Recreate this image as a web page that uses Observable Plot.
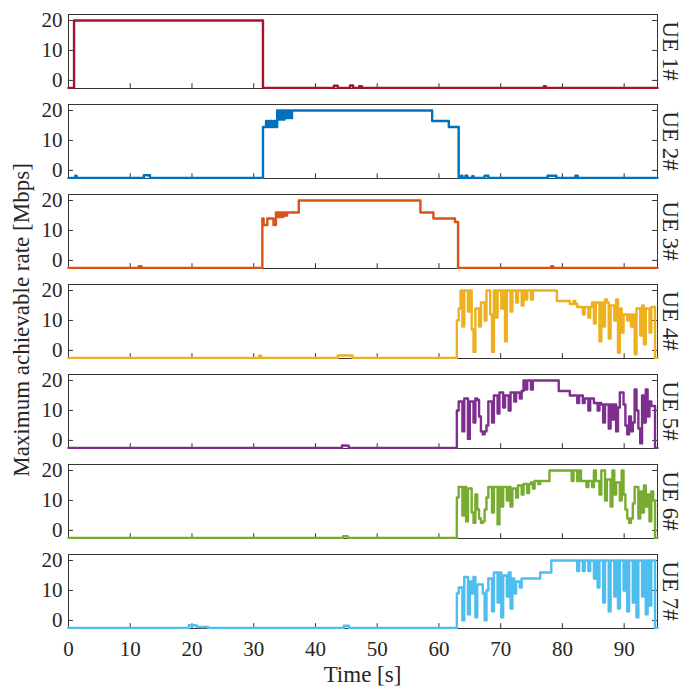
<!DOCTYPE html>
<html><head><meta charset="utf-8">
<script src="https://cdn.jsdelivr.net/npm/d3@7"></script>
<script src="https://cdn.jsdelivr.net/npm/@observablehq/plot@0.6"></script>
<style>body{margin:0;background:#fff;} svg{display:block}</style>
</head><body><div id="chart"></div>
<script>
const ueNames = ["UE 1#","UE 2#","UE 3#","UE 4#","UE 5#","UE 6#","UE 7#"];
const ueColors = ["#A2142F","#0072BD","#D95319","#EDB120","#7E2F8E","#77AC30","#4DBEEE"];
const xTicks = [0,10,20,30,40,50,60,70,80,90];
const yTicks = [0,10,20];
const xMax = 95.4;
const xTitle = "Time [s]";
const yTitle = "Maximum achievable rate [Mbps]";

// step series [time, rate] (held until next point)
const ue1 = [[0,-2.5],[0.9,20],[31.5,-2.5],[43.0,-1.8],[43.6,-2.5],[45.6,-1.7],[46.1,-2.5],[47.1,-1.9],[47.5,-2.5],[77.0,-1.9],[77.3,-2.5],[95.4,-2.5]];
const ue2 = [[0,-2.5],[1.1,-1.8],[1.3,-2.5],[12.2,-1.6],[13.2,-2.5],[31.5,14.5],[32.0,16.5],[32.3,14.5],[32.6,16.5],[32.9,14.5],[33.2,16.5],[33.5,14.5],[33.8,20],[34.1,17],[34.4,20],[34.7,17],[35.0,20],[35.3,17.5],[35.6,20],[35.9,17.5],[36.2,20],[58.9,16.5],[61.6,14.5],[63.2,-2.5],[63.6,-1.8],[63.8,-2.5],[64.3,-1.8],[64.6,-2.5],[65.4,-1.9],[65.6,-2.5],[67.4,-1.8],[68.0,-2.5],[77.6,-1.8],[79.0,-2.5],[82.1,-1.8],[82.5,-2.5],[95.4,-2.5]];
const ue3 = [[0,-2.5],[11.4,-1.9],[11.8,-2.5],[31.4,14],[31.6,11.8],[32.2,14],[33.2,11.8],[33.6,16],[33.9,14.5],[34.2,16],[34.5,14.5],[34.8,16],[35.1,15],[35.4,16],[37.3,20],[57.0,16],[59.1,14],[62.6,12.8],[63.1,-2.5],[78.2,-1.9],[78.5,-2.5],[95.4,-2.5]];

// baseline parts before the fluctuating period
const ue4Pre = [[0,-2.5],[30.6,-2.5],[30.9,-1.8],[31.2,-2.5],[43.2,-2.5],[43.6,-1.7],[45.4,-1.7],[46.0,-2.5],[62.8,-2.5]];
const ue5Pre = [[0,-2.5],[43.9,-2.5],[44.3,-1.7],[45.0,-1.8],[45.4,-2.5],[62.8,-2.5]];
const ue6Pre = [[0,-2.5],[44.2,-2.5],[44.5,-1.9],[44.9,-1.9],[45.2,-2.5],[62.8,-2.5]];
const ue7Pre = [[0,-2.5],[19.0,-2.5],[19.5,-1.6],[20.4,-1.7],[20.8,-2.2],[22.3,-2.2],[22.6,-2.5],[44.2,-2.5],[44.6,-1.8],[45.1,-1.8],[45.4,-2.5],[62.8,-2.5]];

// fluctuating period, sampled every 0.3 s from 62.9 s
const noiseT0 = 62.9, noiseDt = 0.3;
const ue4Noise = [10,14,20,8,20,20,13,20,7,-0.5,
 14,14,8,16,16,10,20,20,12,-0.5,
 20,11,20,20,14,20,3,20,20,13,
 20,20,16,20,20,15,20,17,20,20,
 17,20,20,20,20,20,20,20,20,20,
 20,20,20,20,16.5,16.5,16.5,16.5,16.5,16.5,
 16.5,15.5,15.5,16.5,15.5,14.5,14.5,14.5,12,14.5,
 14.5,11,14.5,16,9,16,16,3,16,8,
 17,16,4,15,15,10,17,-0.8,14,6,
 12,12,10,12,8,12,-1.3,14,14,5,
 15,2,14,14,6,14.5,14.5,-2.5];
const ue5Noise = [10,13,13,3,14,14,0.5,13,13,6,
 14,13.5,8,3,2,3,5,13,13,6,
 15,15,9,16,16,11,15,15,10,16,
 16,13,16,16,14,16.5,20,17,20,20,
 17,20,20,20,20,20,20,20,20,20,
 20,20,20,20,20,16.5,16.5,16.5,16.5,16.5,
 16.5,15,15,15,15,12.5,15,15,12.5,14,
 14,10,14,14,12.5,12.5,10,12.5,12,6,
 12,12,4,12,7,12,3,11,16,16,
 12,5,2,8,3,6,17,10,4,-1,
 15,6,17,8,13,11.5,11.5,-2.5];
const ue6Noise = [11,14.5,14.5,5,14.5,3,14,14,6,2.5,
 12,7,4,2.5,3,7,11,14.5,14.5,6,
 14.5,14.5,2,14.5,8,14.5,14.5,10,14.5,8,
 14,14,11,15,15,12,15.5,15.5,12.5,15.5,
 16,14,16.5,16.5,15.5,16.5,16.5,16.5,16.5,16.5,
 20,20,20,20,20,20,20,20,20,20,
 20,20,16.5,20,20,16.5,20,16.5,16.5,16.5,
 14.5,16.5,16.5,14.5,20,16.5,16.5,12,20,20,
 10,17,17,8,20,12,16,16,10,20,
 12,7,4,2.5,4,9,14.5,14.5,4,13,
 6,15,8,12,3,13,10,-2.5];
const ue7Noise = [9,11,11,0,14.5,14.5,2,13,9,14.5,
 1,12,12,12,9,0,10,14,14,3,
 16,16,6,16,1,15,15,8,16,4,
 14,9,13,13,11,14,14,14,14,14,
 14,14,14,14,14,16,16,16,16,16,
 16,20,20,20,20,20,20,20,20,20,
 20,20,20,20,20,16.5,20,20,16.5,20,
 20,16.5,20,20,14,20,11,20,20,6,
 20,20,3,20,20,8,20,4,20,20,
 10,20,3,20,20,6,20,1,20,20,
 8,20,2,20,5,20,20,-2.5];

const rows = [];
function addSeries(name, pts) { for (const [t, v] of pts) rows.push({ue: name, t, v}); }
function addNoisy(name, pre, vals) {
  const pts = pre.slice();
  vals.forEach((v, i) => pts.push([+(noiseT0 + i * noiseDt).toFixed(2), v]));
  pts.push([xMax, -2.5]);
  addSeries(name, pts);
}
addSeries(ueNames[0], ue1);
addSeries(ueNames[1], ue2);
addSeries(ueNames[2], ue3);
addNoisy(ueNames[3], ue4Pre, ue4Noise);
addNoisy(ueNames[4], ue5Pre, ue5Noise);
addNoisy(ueNames[5], ue6Pre, ue6Noise);
addNoisy(ueNames[6], ue7Pre, ue7Noise);

const axisColor = "#333";
const plot = Plot.plot({
  width: 684, height: 690,
  marginTop: 12, marginBottom: 61, marginLeft: 68, marginRight: 27,
  style: {fontFamily: "'Liberation Serif', 'Times New Roman', serif", fontSize: "21px", color: "#262626", background: "#fff"},
  x: {domain: [0, xMax], axis: null},
  y: {domain: [-2.7, 22], axis: null},
  fy: {domain: ueNames, paddingInner: 0.18, paddingOuter: 0, axis: null},
  color: {domain: ueNames, range: ueColors},
  marks: [
    Plot.frame({stroke: axisColor, strokeWidth: 1}),
    Plot.ruleY(yTicks, {x1: 0, x2: 0.8, stroke: axisColor}),
    Plot.ruleY(yTicks, {x1: xMax - 0.8, x2: xMax, stroke: axisColor}),
    Plot.ruleX(xTicks, {y1: -2.7, y2: -1.1, stroke: axisColor}),
    Plot.axisY({ticks: yTicks, tickSize: 0, tickPadding: 6, label: null, fontSize: 21}),
    Plot.axisX({ticks: xTicks, tickSize: 0, tickPadding: 13, label: null, fontSize: 21}),
    Plot.line(rows, {x: "t", y: "v", fy: "ue", z: "ue", stroke: "ue", curve: "step-after", strokeWidth: 2.4})
  ]
});

const svg = d3.select(plot);
const fyScale = plot.scale("fy");
ueNames.forEach(name => {
  const yc = fyScale.apply(name) + fyScale.bandwidth / 2;
  svg.append("text")
    .attr("transform", `translate(671,${yc}) rotate(90)`)
    .attr("text-anchor", "middle").attr("dy", "0.35em")
    .attr("font-size", 23).attr("fill", "#262626")
    .text(name);
});
svg.append("text")
  .attr("transform", "translate(21,320) rotate(-90)")
  .attr("text-anchor", "middle").attr("dy", "0.35em")
  .attr("font-size", 23).attr("fill", "#262626")
  .text(yTitle);
svg.append("text")
  .attr("x", 362.5).attr("y", 682)
  .attr("text-anchor", "middle")
  .attr("font-size", 23).attr("fill", "#262626")
  .text(xTitle);
document.getElementById("chart").appendChild(plot);
</script>
</body></html>
